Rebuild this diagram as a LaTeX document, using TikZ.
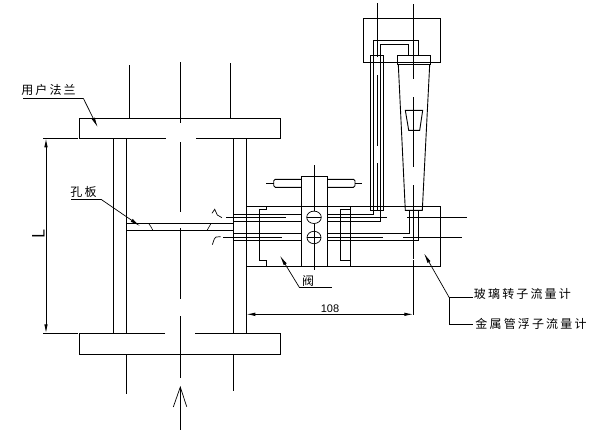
\documentclass[tikz,border=0pt]{standalone}
\usepackage{fontspec}
\newfontfamily\numfont{Liberation Sans}
\newfontfamily\cjkfont[LetterSpace=18]{Noto Sans CJK SC}
\usetikzlibrary{arrows.meta}
\tikzset{
  thinline/.style={line width=.9pt},
  leader/.style={line width=.7pt,-{Latex[length=10pt,width=3.5pt]}},
  dimline/.style={line width=.9pt,{Latex[length=9pt,width=3.5pt]}-{Latex[length=9pt,width=3.5pt]}},
  cjklabel/.style={font=\cjkfont\fontsize{12}{12}\selectfont,inner sep=0pt}
}

\begin{document}
\begin{tikzpicture}[x=1pt,y=-1pt,thinline]
  \useasboundingbox (0,0) rectangle (610,447);
  % flanges
  \draw (165.5,138.3) -- (79.3,138.3) -- (79.3,118.3) -- (280.3,118.3) -- (280.3,138.3) -- (196,138.3);
  \draw (165,333.3) -- (79.3,333.3) -- (79.3,354.3) -- (280.3,354.3) -- (280.3,333.3) -- (195,333.3);
  \foreach \x in {113.3,126.3,233.3,246.3}
    \draw (\x,138.3) -- (\x,333.3);
  \draw (129.3,65) -- (129.3,118.3);
  \draw (230.3,63) -- (230.3,118.3);
  \draw (126.3,354.3) -- (126.3,393.7);
  \draw (233.3,354.3) -- (233.3,390.7);
  % centre line
  \draw (180.3,62) -- (180.3,123);
  \draw (180.3,142) -- (180.3,212);
  \draw (180.3,228.3) -- (180.3,298.7);
  \draw (180.3,316) -- (180.3,377.7);
  \draw (180.3,429.7) -- (180.3,387);
  \draw[line width=.7pt] (173.3,407) -- (180.3,387) -- (186.7,406.7);
  % plate
  \draw (126.3,223.3) -- (233.3,223.3);
  \draw (126.3,230.3) -- (233.3,230.3);
  \draw[line width=.6pt] (149,224) -- (150.5,226) -- (152.7,230);
  \draw[line width=.6pt] (210.7,224) -- (207.3,230);
  % flow marks
  \draw[line width=.7pt] (212,213.3) -- (214.7,209.3) -- (217.3,215) -- (222,217.7);
  \draw[line width=.7pt] (212.3,244.7) -- (214.3,239) -- (216,237) -- (220.7,236.7);
  % valve block
  \draw (246.3,206.3) -- (440.3,206.3) -- (440.3,266.3) -- (246.3,266.3);
  \draw (301.3,266.3) -- (301.3,176.3) -- (327.3,176.3) -- (327.3,266.3);
  \draw (350.3,206.3) -- (350.3,266.3);
  \draw (340.3,260.7) -- (350.3,260.7);
  \draw (350.3,209.3) -- (340.3,209.3) -- (340.3,260.7);
  \draw (266.7,206.3) -- (266.7,209.3) -- (259.3,209.3) -- (259.3,260) -- (266.7,260) -- (266.7,266.3);
  \draw (314.3,165) -- (314.3,211);
  \draw (314.3,223.5) -- (314.3,270.3);
  \draw[line width=.7pt] (314,217.3) ellipse (7.3 and 6.2);
  \draw[line width=.7pt] (314,237.5) ellipse (7 and 6.2);
  \draw[line width=.7pt] (306.7,217.3) -- (321.3,217.3);
  \draw[line width=.7pt] (307,237.5) -- (321,237.5);
  % handle
  \draw[rounded corners=1.5pt] (301.3,179.3) -- (273.7,179.3) -- (273.7,187.3) -- (301.3,187.3);
  \draw[rounded corners=1.5pt] (327.3,179.3) -- (355,179.3) -- (355,187.3) -- (327.3,187.3);
  \draw (266,183.3) -- (273.7,183.3);
  \draw (355,183.3) -- (361.7,183.3);
  % tubes
  \draw (233.3,214.3) -- (301.3,214.3);
  \draw (233.3,221.3) -- (301.3,221.3);
  \draw (233.3,233.3) -- (301.3,233.3);
  \draw (233.3,240.3) -- (301.3,240.3);
  \draw (226,217.3) -- (286,217.3);
  \draw (223,237) -- (282,237);
  \draw (327.3,214.3) -- (373.3,214.3) -- (373.3,40.7) -- (418.7,40.7) -- (418.7,55.3);
  \draw (327.3,221.3) -- (380.3,221.3) -- (380.3,44.3) -- (408.7,44.3) -- (408.7,55.3);
  \draw (327.3,233.3) -- (409.3,233.3) -- (409.3,210.3);
  \draw (327.3,240.3) -- (418.3,240.3) -- (418.3,210.3);
  \draw (327.3,217.3) -- (387,217.3);
  \draw (407,217.3) -- (467,217.3);
  \draw (327.3,237) -- (383,237);
  \draw (403,237) -- (462,237);
  % flow meters
  \draw (363.3,18.3) rectangle (440.3,62.3);
  \draw (370.3,55.3) rectangle (383.3,210.7);
  \draw (377.3,3) -- (377.3,57);
  \draw (377.3,75) -- (377.3,146);
  \draw (377.3,163) -- (377.3,210.7);
  \draw (397.3,64.3) -- (397.3,55.3) -- (430.3,55.3) -- (430.3,64.3) -- cycle;
  \draw (398.3,64.3) -- (405.3,210.3) -- (422.3,210.3) -- (429.7,64.3);
  \draw (405.3,110.3) -- (422.7,110.3) -- (419.7,130.3) -- (408.7,130.3) -- cycle;
  \draw (413.3,4) -- (413.3,79);
  \draw (413.3,97) -- (413.3,167);
  \draw (413.3,185) -- (413.3,259);
  \draw (413.3,260.3) -- (413.3,315);
  % dimensions
  \draw (43,138.3) -- (78,138.3);
  \draw (43,333.3) -- (77.7,333.3);
  \coordinate (lentop) at (46,138.3);
  \coordinate (lenbot) at (46,333.3);
  \draw[dimline] (lentop) -- (lenbot);
  \node[rotate=90,font=\sffamily\fontsize{18}{18}\selectfont,inner sep=0pt] (lenlabel) at (38.5,233.5) {L};
  \coordinate (widleft) at (246.3,314.3);
  \coordinate (widright) at (413.3,314.3);
  \draw[dimline] (widleft) -- (widright);
  \node[font=\numfont\fontsize{11}{11}\selectfont,inner sep=0pt] (widlabel) at (330,308.5) {108};
  % labels
  \node[cjklabel] (flangelabel) at (48.5,90) {用户法兰};
  \coordinate (flangebend) at (83.3,98.3);
  \coordinate (flangetip) at (97.7,127.3);
  \draw[line width=.7pt] (23,98.3) -- (flangebend);
  \draw[leader] (flangebend) -- (flangetip);
  \node[cjklabel] (platelabel) at (83.5,191.7) {孔板};
  \coordinate (platebend) at (101,199.3);
  \coordinate (platetip) at (140,226);
  \draw[line width=.7pt] (71,199.3) -- (platebend);
  \draw[leader] (platebend) -- (platetip);
  \node[cjklabel] (valvelabel) at (308,281) {阀};
  \coordinate (valvebend) at (299.3,287.3);
  \coordinate (valvetip) at (280,255.7);
  \draw[line width=.7pt] (331.7,287.3) -- (valvebend);
  \draw[leader] (valvebend) -- (valvetip);
  \node[cjklabel,anchor=west] (glasslabel) at (473.5,294.3) {玻璃转子流量计};
  \node[cjklabel,anchor=west] (metallabel) at (475,323.5) {金属管浮子流量计};
  \coordinate (meterbend) at (449.3,297.7);
  \coordinate (metertip) at (424,253.3);
  \draw[line width=.7pt] (473,297.7) -- (meterbend) -- (449.3,324.3) -- (473,324.3);
  \draw[leader] (meterbend) -- (metertip);
\end{tikzpicture}
\end{document}
